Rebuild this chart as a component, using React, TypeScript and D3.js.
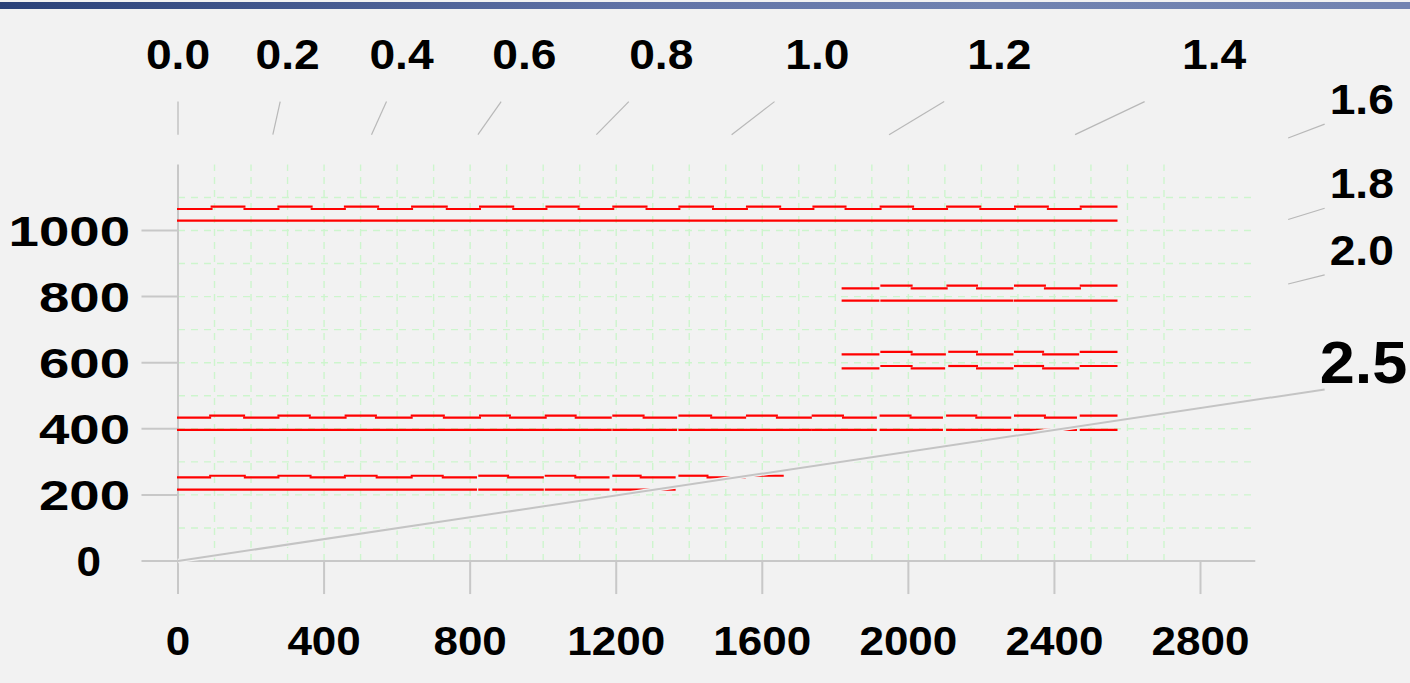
import React from "react";
import * as d3 from "d3";

// ---- data ---------------------------------------------------------------
// horizontal pieces: [x start, x end, y]
type Piece = [number, number, number];

const xTickValues = [0, 400, 800, 1200, 1600, 2000, 2400, 2800];
const yTickValues = [0, 200, 400, 600, 800, 1000];

// slope labels (x / y = sinh(value))
const topRatios = [0.0, 0.2, 0.4, 0.6, 0.8, 1.0, 1.2, 1.4];
const sideRatios = [1.6, 1.8, 2.0];
const mainRatio = 2.5;

const band1000Stepped: Piece[] = [
  [0, 92, 1065], [92, 182, 1072], [182, 275, 1065], [275, 366, 1072],
  [366, 457, 1065], [457, 548, 1072], [548, 641, 1065], [641, 736, 1072],
  [736, 827, 1065], [827, 918, 1072], [918, 1009, 1065], [1009, 1097, 1072],
  [1097, 1192, 1065], [1192, 1283, 1072], [1283, 1373, 1065], [1373, 1465, 1072],
  [1465, 1558, 1065], [1558, 1649, 1072], [1649, 1740, 1065], [1740, 1828, 1072],
  [1828, 1924, 1065], [1924, 2013, 1072], [2013, 2106, 1065], [2106, 2197, 1072],
  [2197, 2292, 1065], [2292, 2382, 1072], [2382, 2472, 1065], [2472, 2570, 1072],
];
const band1000Flat: Piece[] = [[0, 2570, 1030]];

const band800Stepped: Piece[] = [
  [1820, 1918, 825], [1926, 2009, 833], [2009, 2105, 825], [2107, 2188, 833],
  [2188, 2285, 825], [2292, 2374, 833], [2374, 2470, 825], [2472, 2570, 833],
];
const band800Flat: Piece[] = [[1820, 1918, 788], [1926, 2285, 788], [2292, 2570, 788]];

const band600Upper: Piece[] = [
  [1820, 1918, 625], [1926, 2009, 633], [2009, 2100, 625], [2112, 2188, 633],
  [2188, 2285, 625], [2292, 2369, 633], [2369, 2465, 625], [2472, 2570, 633],
];
const band600Lower: Piece[] = [
  [1820, 1918, 583], [1926, 2009, 590], [2009, 2098, 583], [2112, 2188, 590],
  [2188, 2285, 583], [2292, 2369, 590], [2369, 2465, 583], [2472, 2570, 590],
];

const band400Stepped: Piece[] = [
  [0, 88, 434], [88, 181, 440], [181, 275, 434], [275, 361, 440],
  [361, 459, 434], [459, 542, 440], [542, 640, 434], [640, 728, 440],
  [728, 827, 434], [827, 909, 440], [909, 1007, 434], [1007, 1089, 440],
  [1089, 1185, 434], [1192, 1275, 440], [1275, 1364, 434], [1373, 1460, 440],
  [1460, 1553, 434], [1558, 1640, 440], [1640, 1733, 434], [1738, 1821, 440],
  [1821, 1911, 434], [1924, 2006, 440], [2006, 2092, 434], [2106, 2186, 440],
  [2186, 2279, 434], [2292, 2374, 440], [2374, 2459, 434], [2472, 2570, 440],
];
const band400Flat: Piece[] = [
  [0, 1185, 397], [1192, 1364, 397], [1373, 1553, 397], [1558, 1733, 397],
  [1738, 1911, 397], [1924, 2092, 397], [2106, 2279, 397], [2292, 2459, 397],
  [2472, 2570, 397],
];

const band200Stepped: Piece[] = [
  [0, 88, 253], [88, 183, 258], [183, 275, 253], [275, 363, 258],
  [363, 457, 253], [457, 544, 258], [544, 640, 253], [640, 725, 258],
  [725, 816, 253], [825, 904, 258], [904, 999, 253], [1007, 1088, 258],
  [1088, 1179, 253], [1192, 1267, 258], [1267, 1360, 253], [1373, 1450, 258],
  [1450, 1552, 253], [1558, 1656, 258],
];
const band200Flat: Piece[] = [[0, 816, 216], [825, 999, 216], [1007, 1179, 216], [1192, 1360, 216]];

const allPieces: Piece[][] = [
  band1000Stepped, band1000Flat, band800Stepped, band800Flat,
  band600Upper, band600Lower, band400Stepped, band400Flat,
  band200Stepped, band200Flat,
];

// ---- layout -------------------------------------------------------------
const W = 1410;
const H = 683;
const BG = "#f2f2f2";
const FONT = "'Liberation Sans', Arial, Helvetica, sans-serif";

const x = d3.scaleLinear().domain([0, 2800]).range([178, 1200.5]);
const y = d3.scaleLinear().domain([0, 1000]).range([561, 230.5]);

const axisMin = -100;
const xAxisMax = 2950;
const yAxisMax = 1200;
const xGrid = d3.range(100, 2800, 100);
const yGrid = d3.range(100, 1200, 100);

const innerBox = { x: 3040, y: 1290 };
const outerBox = { x: 3140, y: 1390 };
const topLabelY = 1490;

const fmt = d3.format(".1f");

function rayEnd(k: number, box: { x: number; y: number }) {
  const yy = k > 0 ? Math.min(box.y, box.x / k) : box.y;
  return { x: k * yy, y: yy };
}

// text widened horizontally about its anchor point
function Label(props: {
  x: number;
  y: number;
  size: number;
  sx: number;
  anchor?: "start" | "middle" | "end";
  children: React.ReactNode;
}) {
  const { x: px, y: py, size, sx, anchor = "start", children } = props;
  return (
    <text
      transform={`translate(${px},${py}) scale(${sx},1)`}
      fontSize={size}
      textAnchor={anchor}
    >
      {children}
    </text>
  );
}

export default function App() {
  const pieces = allPieces.flat();
  const kMain = Math.sinh(mainRatio);
  const mainEnd = rayEnd(kMain, outerBox);

  return (
    <div style={{ position: "absolute", left: 0, top: 0 }}>
      <svg width={W} height={H} style={{ display: "block" }}>
        <defs>
          <linearGradient id="topBar" x1="0" x2="1" y1="0" y2="0">
            <stop offset="0" stopColor="#2a4178" />
            <stop offset="0.45" stopColor="#6072a6" />
            <stop offset="0.7" stopColor="#7082b0" />
            <stop offset="1" stopColor="#7283b1" />
          </linearGradient>
        </defs>
        <rect x={0} y={0} width={W} height={H} fill={BG} />
        <rect x={0} y={2} width={W} height={7} fill="url(#topBar)" />

        {/* dashed grid */}
        <g stroke="#cdf5cd" strokeWidth={1.4} strokeDasharray="7 6" fill="none">
          {xGrid.map((v) => (
            <line key={"gx" + v} x1={x(v)} x2={x(v)} y1={y(0)} y2={y(yAxisMax)} />
          ))}
          {yGrid.map((v) => (
            <line key={"gy" + v} x1={x(0)} x2={x(xAxisMax)} y1={y(v)} y2={y(v)} />
          ))}
        </g>

        {/* axes and ticks */}
        <g stroke="#c8c8c8" strokeWidth={2} fill="none">
          <line x1={x(axisMin)} x2={x(xAxisMax)} y1={y(0)} y2={y(0)} />
          <line x1={x(0)} x2={x(0)} y1={y(axisMin)} y2={y(yAxisMax)} />
          {xTickValues.filter((v) => v > 0).map((v) => (
            <line key={"tx" + v} x1={x(v)} x2={x(v)} y1={y(0)} y2={y(axisMin)} />
          ))}
          {yTickValues.filter((v) => v > 0).map((v) => (
            <line key={"ty" + v} x1={x(0)} x2={x(axisMin)} y1={y(v)} y2={y(v)} />
          ))}
        </g>

        {/* red pieces */}
        <g stroke="#ff0000" strokeWidth={2.2} fill="none">
          {pieces.map((p, i) => (
            <line key={"p" + i} x1={x(p[0]) - 1} x2={x(p[1]) + 1} y1={y(p[2])} y2={y(p[2])} />
          ))}
        </g>

        {/* slope guides */}
        <g stroke="#b8b8b8" strokeWidth={1.2} fill="none">
          {[...topRatios, ...sideRatios].map((r) => {
            const k = Math.sinh(r);
            const a = rayEnd(k, innerBox);
            const b = rayEnd(k, outerBox);
            return <line key={"r" + r} x1={x(a.x)} y1={y(a.y)} x2={x(b.x)} y2={y(b.y)} />;
          })}
        </g>
        <line x1={x(0)} y1={y(0)} x2={x(mainEnd.x)} y2={y(mainEnd.y)} stroke={BG} strokeWidth={4.5} />
        <line x1={x(0)} y1={y(0)} x2={x(mainEnd.x)} y2={y(mainEnd.y)} stroke="#c4c4c4" strokeWidth={2} />

        {/* labels */}
        <g fontFamily={FONT} fontWeight="bold" fill="#000">
          {topRatios.map((r) => (
            <Label key={"tl" + r} x={x(Math.sinh(r) * topLabelY)} y={y(topLabelY)} size={42} sx={1.1} anchor="middle">
              {fmt(r)}
            </Label>
          ))}
          {sideRatios.map((r) => {
            const b = rayEnd(Math.sinh(r), outerBox);
            return (
              <Label key={"sl" + r} x={x(b.x) + 5} y={y(b.y) - 10} size={42} sx={1.1}>
                {fmt(r)}
              </Label>
            );
          })}
          <Label x={x(mainEnd.x) - 5} y={y(mainEnd.y) - 6} size={60} sx={1.05}>
            {fmt(mainRatio)}
          </Label>
          {xTickValues.map((v) => (
            <Label key={"xl" + v} x={x(v)} y={655} size={40} sx={1.1} anchor="middle">
              {v}
            </Label>
          ))}
          {yTickValues.map((v) => (
            <Label key={"yl" + v} x={v === 0 ? 101 : 130} y={y(v) + 15} size={42} sx={v === 0 ? 1.05 : 1.3} anchor="end">
              {v}
            </Label>
          ))}
        </g>
      </svg>
    </div>
  );
}
